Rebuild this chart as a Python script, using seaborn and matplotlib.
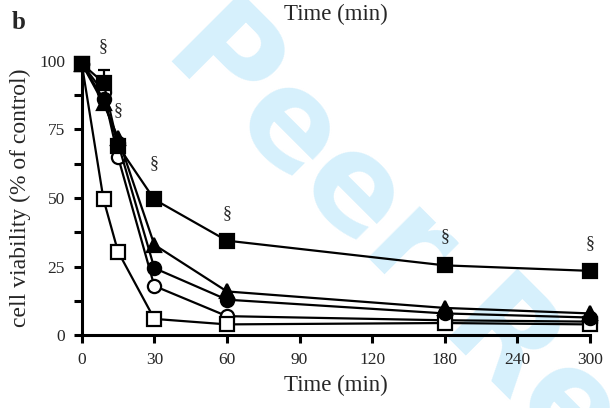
import numpy as np
import pandas as pd
import matplotlib
matplotlib.use('Agg')
import matplotlib.pyplot as plt
import matplotlib.ticker as mticker
import seaborn as sns

# data
time_min = [0, 9, 15, 30, 60, 180, 300]
sq_filled = [99, 92, 69, 49.5, 34.5, 25.5, 23.5]
tri_filled = [99, 84.5, 72, 33, 16, 10, 8]
circ_filled = [99, 86, 70, 24.5, 13, 8, 6.5]
circ_open = [99, 88.5, 65, 18, 7, 5.5, 5]
sq_open = [99, 49.5, 30.5, 6, 4, 4.5, 4]

sq_err = [0, 4.5, 0, 0, 0, 0, 0]

sig_x = [9, 15, 30, 60, 180, 300]
sig_y = [105, 82, 62.5, 44.5, 36, 33.5]

x_ticks = [0, 30, 60, 90, 120, 180, 240, 300]
y_ticks = [0, 25, 50, 75, 100]
y_minor = [12.5, 37.5, 62.5, 87.5]

series = [
    ('circ_open', circ_open, 'o', 'white'),
    ('sq_open', sq_open, 's', 'white'),
    ('circ_filled', circ_filled, 'o', 'black'),
    ('tri_filled', tri_filled, '^', 'black'),
    ('sq_filled', sq_filled, 's', 'black'),
]

sns.set_theme(style='ticks')
plt.rcParams['font.family'] = ['Liberation Serif', 'DejaVu Serif']

fig = plt.figure(figsize=(6.10, 4.08), dpi=100)
ax = fig.add_axes([0.134, 0.178, 0.833, 0.673])
ax.patch.set_alpha(0)

# watermark behind everything
fig.text(0.68, 0.38, 'For Peer Review', color='#d6f0fc', fontsize=96,
         fontfamily='DejaVu Sans', fontweight='bold', rotation=-45,
         ha='center', va='center', zorder=-5)

for name, vals, mk, fc in series:
    df = pd.DataFrame({'t': time_min, 'v': vals})
    sns.lineplot(data=df, x='t', y='v', ax=ax, color='black', lw=1.6,
                 marker=mk, markersize=10 if mk == 's' else 9.5,
                 markerfacecolor=fc, markeredgecolor='black',
                 markeredgewidth=1.6, clip_on=False, zorder=3)

ax.errorbar(time_min[1], sq_filled[1], yerr=sq_err[1], fmt='none',
            ecolor='black', elinewidth=1.6, capsize=4, capthick=1.6,
            zorder=2, clip_on=False)

for x, y in zip(sig_x, sig_y):
    ax.text(x, y, '§', ha='center', va='center', fontsize=13, clip_on=False)


def fwd(x):
    x = np.asarray(x, dtype=float)
    return np.where(x <= 120, x, 120 + (x - 120) / 2)


def inv(y):
    y = np.asarray(y, dtype=float)
    return np.where(y <= 120, y, 120 + 2 * (y - 120))


ax.set_xscale('function', functions=(fwd, inv))
ax.set_xlim(0, 300)
ax.set_ylim(0, 100)
ax.set_xticks(x_ticks)
ax.set_xticklabels([str(t) for t in x_ticks])
ax.xaxis.set_minor_locator(mticker.NullLocator())
ax.set_yticks(y_ticks)
ax.set_yticks(y_minor, minor=True)
ax.tick_params(axis='both', which='both', direction='out', length=6,
               width=2.2, labelsize=12.5, color='black', pad=6)

for s in ['top', 'right']:
    ax.spines[s].set_visible(False)
for s in ['left', 'bottom']:
    ax.spines[s].set_linewidth(2.2)
    ax.spines[s].set_color('black')

ax.set_xlabel('Time (min)', fontsize=16.5, labelpad=5)
ax.set_ylabel('cell viability (% of control)', fontsize=17, labelpad=6)

fig.text(0.551, 0.964, 'Time (min)', fontsize=16.5, ha='center', va='center')
fig.text(0.03, 0.945, 'b', fontsize=18, fontweight='bold', ha='center',
         va='center')

fig.savefig('out.png', dpi=100)
